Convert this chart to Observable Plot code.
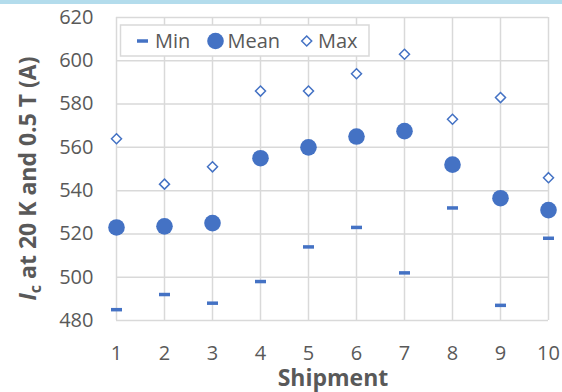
<!DOCTYPE html>
<html><head><meta charset="utf-8">
<script src="https://cdn.jsdelivr.net/npm/d3@7"></script>
<script src="https://cdn.jsdelivr.net/npm/@observablehq/plot@0.6"></script>
<style>
html,body{margin:0;padding:0;background:#fff;}
#chart{position:relative;width:562px;height:392px;overflow:hidden;}
#band{position:absolute;left:0;top:0;width:562px;height:4px;background:#b3dcec;z-index:2;}
</style></head><body>
<div id="chart"><div id="band"></div></div>
<script>
const shipments = [1, 2, 3, 4, 5, 6, 7, 8, 9, 10];
const minValues = [485, 492, 488, 498, 514, 523, 502, 532, 487, 518];
const meanValues = [523, 523.5, 525, 555, 560, 565, 567.5, 552, 536.5, 531];
const maxValues = [564, 543, 551, 586, 586, 594, 603, 573, 583, 546];
const yTicks = [480, 500, 520, 540, 560, 580, 600, 620];
const seriesNames = ["Min", "Mean", "Max"];
const xTitle = "Shipment";

const blue = "#4472C4";
const grid = "#d9d9d9";
const textColor = "#595959";
const font = "'Open Sans', sans-serif";

const data = shipments.map((s, i) => ({shipment: s, min: minValues[i], mean: meanValues[i], max: maxValues[i]}));

const dashSymbol = {draw(ctx) { ctx.rect(-5.5, -1.75, 11, 3.5); }};
const diamondSymbol = {draw(ctx) { ctx.moveTo(0, -5); ctx.lineTo(5, 0); ctx.lineTo(0, 5); ctx.lineTo(-5, 0); ctx.closePath(); }};

const chart = Plot.plot({
  width: 562, height: 392,
  marginLeft: 116, marginRight: 14, marginTop: 17, marginBottom: 72,
  style: {fontFamily: font, fontSize: "20px", color: textColor, background: "white", overflow: "visible"},
  x: {domain: [1, 10]},
  y: {domain: [480, 620]},
  marks: [
    Plot.gridX(shipments, {stroke: grid, strokeOpacity: 1, strokeWidth: 1.5}),
    Plot.gridY(yTicks, {stroke: grid, strokeOpacity: 1, strokeWidth: 1.5}),
    Plot.axisX(shipments, {tickSize: 0, tickPadding: 25, label: null, fill: textColor, fontSize: 20}),
    Plot.axisY(yTicks, {tickSize: 0, tickPadding: 23, label: null, fill: textColor, fontSize: 20}),
    Plot.dot(data, {x: "shipment", y: "min", symbol: dashSymbol, fill: blue, stroke: "none"}),
    Plot.dot(data, {x: "shipment", y: "mean", r: 8.3, fill: blue, stroke: "none"}),
    Plot.dot(data, {x: "shipment", y: "max", symbol: diamondSymbol, fill: "white", stroke: blue, strokeWidth: 1.5})
  ]
});
document.getElementById("chart").appendChild(chart);

const svg = d3.select(chart);
// x title
svg.append("text").attr("x", 333).attr("y", 386).attr("text-anchor", "middle")
  .attr("font-family", font).attr("font-weight", "bold").attr("font-size", 23).attr("fill", textColor)
  .text(xTitle);
// y title
const yt = svg.append("text").attr("transform", "translate(36,178.5) rotate(-90)").attr("text-anchor", "middle")
  .attr("font-family", font).attr("font-weight", "bold").attr("font-size", 23).attr("fill", textColor);
yt.append("tspan").attr("font-style", "italic").text("I");
yt.append("tspan").attr("font-size", 16).attr("dy", 5).text("c");
yt.append("tspan").attr("dy", -5).text(" at 20 K and 0.5 T (A)");

// legend
const lg = svg.append("g").attr("text-anchor", "start");
lg.append("rect").attr("x", 120.5).attr("y", 25).attr("width", 248.5).attr("height", 31)
  .attr("fill", "white").attr("stroke", grid).attr("stroke-width", 1.5);
lg.append("path").attr("transform", "translate(142.5,41)").attr("d", "M-5.5,-1.75h11v3.5h-11z").attr("fill", blue);
lg.append("circle").attr("cx", 215.5).attr("cy", 41).attr("r", 8.3).attr("fill", blue);
lg.append("path").attr("transform", "translate(306.7,41)").attr("d", "M0,-5L5,0L0,5L-5,0Z")
  .attr("fill", "white").attr("stroke", blue).attr("stroke-width", 1.5);
const lx = [155, 227.5, 318];
seriesNames.forEach((n, i) => {
  lg.append("text").attr("x", lx[i]).attr("y", 48).attr("text-anchor", "start").attr("font-family", font).attr("font-size", 20)
    .attr("fill", textColor).text(n);
});
</script>
</body></html>
